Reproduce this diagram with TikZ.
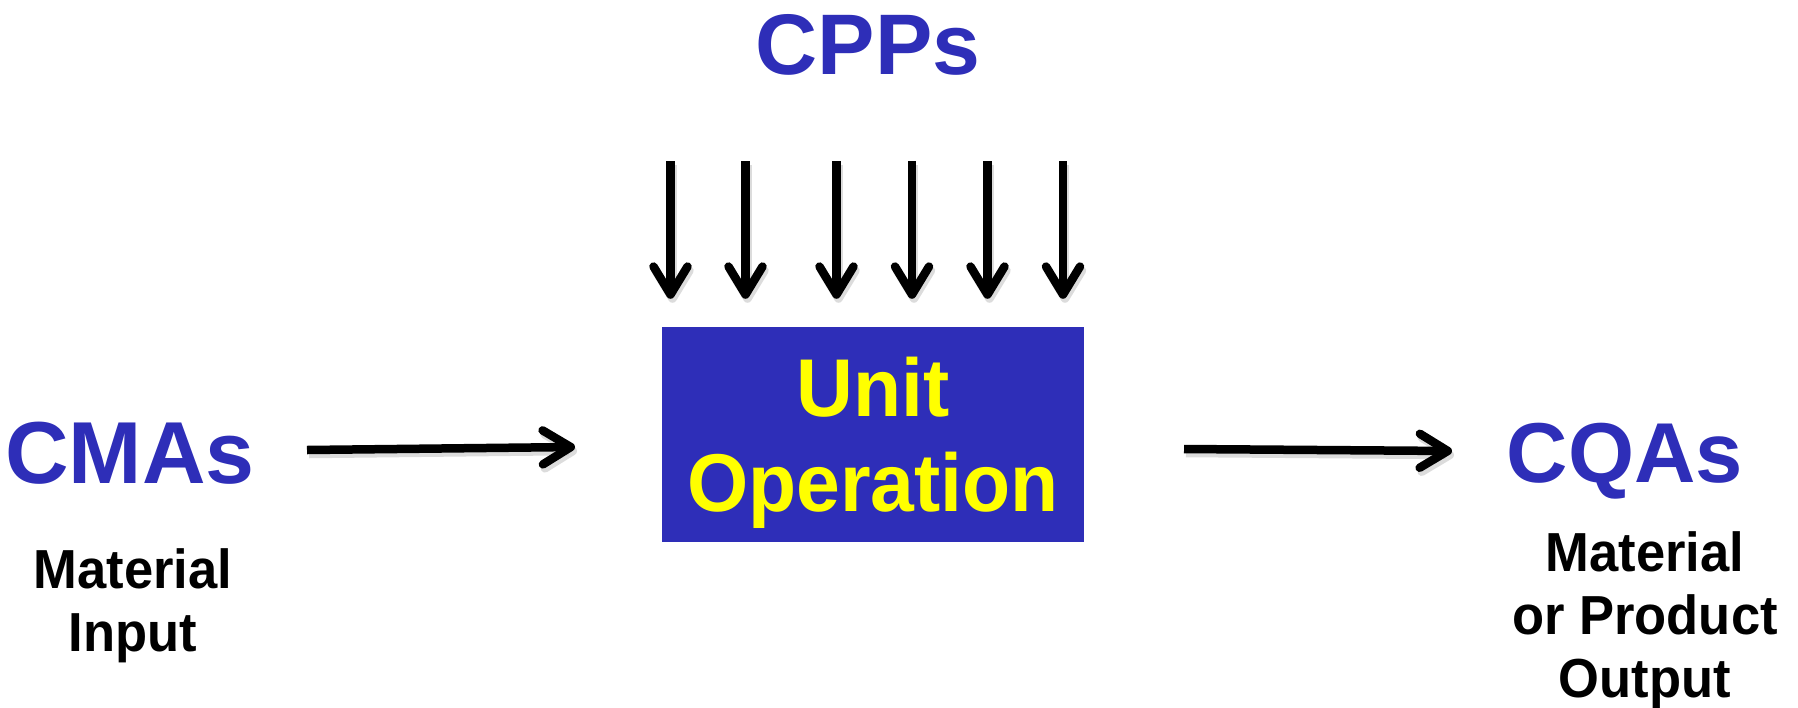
\documentclass[tikz,border=0pt]{standalone}
\usepackage{fontspec}
\setmainfont{Liberation Sans}
\usetikzlibrary{arrows.meta}
\definecolor{dblue}{RGB}{46,46,184}
\definecolor{uyellow}{RGB}{255,255,0}
\tikzset{
  arr/.style={line width=8.5pt, line cap=butt, -{Straight Barb[round,length=28pt,width=34pt]}},
  shad/.style={arr, draw=black!30, opacity=0.45, transform canvas={shift={(2pt,-4pt)}}},
  big/.style={font=\fontsize{88}{95}\selectfont\bfseries, text=dblue, inner sep=0pt, anchor=base},
  small/.style={font=\fontsize{55}{63}\selectfont\bfseries, text=black, inner sep=0pt, anchor=base, align=center, xscale=0.955},
}
\begin{document}
\begin{tikzpicture}[x=1pt,y=-1pt]
\useasboundingbox (0,0) rectangle (1798,707);
% box
\node[fill=dblue, minimum width=422pt, minimum height=215pt, inner sep=0pt] (box) at (873,434.5) {};
\node[font=\fontsize{82}{95}\selectfont\bfseries, text=uyellow, inner sep=0pt, anchor=base, align=center, xscale=0.96] (uo) at (873,511) {Unit\\Operation};
% labels
\node[big, font=\fontsize{86}{95}\selectfont\bfseries] (cpp) at (868,74) {CPPs};
\node[big] (cma) at (130,483) {CMAs};
\node[big, font=\fontsize{85}{95}\selectfont\bfseries] (cqa) at (1625,482) {CQAs};
\node[small] (min) at (133,651) {Material\\Input};
\node[small] (mout) at (1645,697) {Material\\or Product\\Output};
% down arrows
\foreach \i/\x in {1/670.5,2/745.5,3/836.5,4/912,5/987.5,6/1063}{
  \coordinate (p\i) at (\x,161);
  \draw[shad, shorten >=28pt] (p\i) -- (p\i |- box.north);
  \draw[arr, shorten >=28pt] (p\i) -- (p\i |- box.north);
}
% horizontal arrows
\coordinate (la) at (307,450);
\coordinate (lb) at (575,447);
\coordinate (ra) at (1184,449);
\coordinate (rb) at (1452,451);
\draw[shad] (la) -- (lb);
\draw[arr] (la) -- (lb);
\draw[shad] (ra) -- (rb);
\draw[arr] (ra) -- (rb);
\end{tikzpicture}
\end{document}
